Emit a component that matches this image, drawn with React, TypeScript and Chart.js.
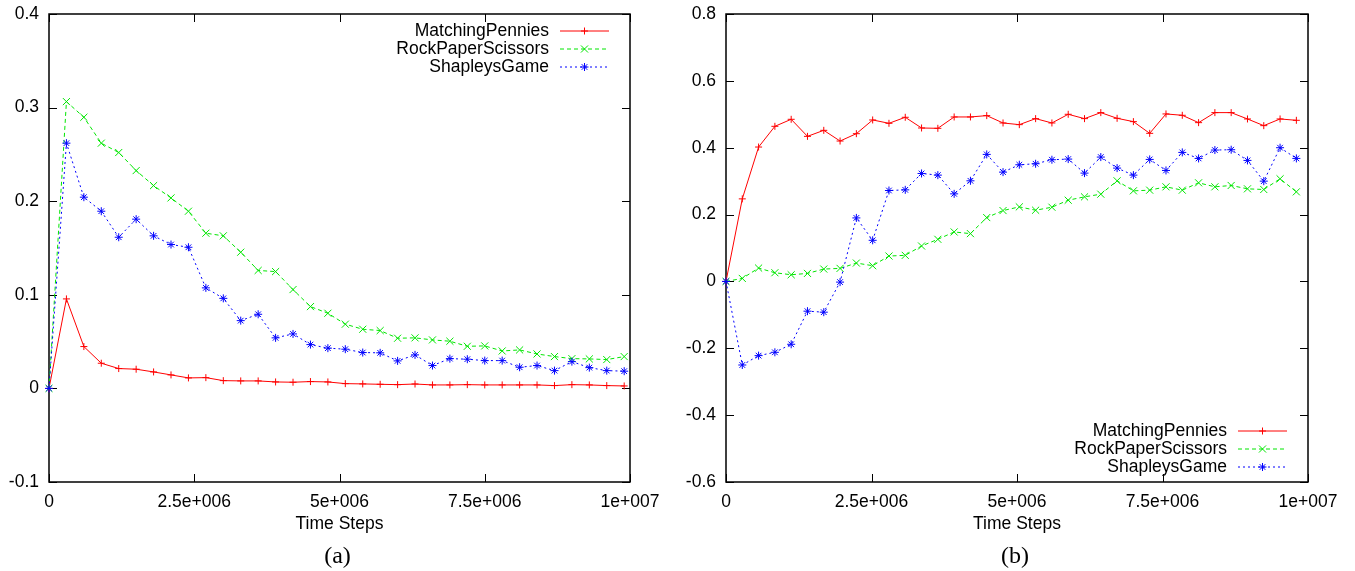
import React, { useEffect, useRef } from 'react';
import { Chart, registerables } from 'chart.js';

Chart.register(...registerables);

// ---------- data ----------
const seriesNames = ['MatchingPennies', 'RockPaperScissors', 'ShapleysGame'];

const timeStepsA = [
  0, 300000, 600000, 900000, 1200000, 1500000, 1800000, 2100000, 2400000, 2700000,
  3000000, 3300000, 3600000, 3900000, 4200000, 4500000, 4800000, 5100000, 5400000, 5700000,
  6000000, 6300000, 6600000, 6900000, 7200000, 7500000, 7800000, 8100000, 8400000, 8700000,
  9000000, 9300000, 9600000, 9900000,
];
const matchingPenniesA = [
  0, 0.0956, 0.0447, 0.0269, 0.0212, 0.0205, 0.0176, 0.0144, 0.0112, 0.0115,
  0.0083, 0.008, 0.008, 0.0069, 0.0066, 0.0073, 0.0069, 0.0051, 0.0048, 0.0044,
  0.004, 0.0047, 0.0037, 0.0037, 0.004, 0.0037, 0.0037, 0.0037, 0.0037, 0.003,
  0.004, 0.0037, 0.003, 0.0026,
];
const rockPaperScissorsA = [
  0, 0.3064, 0.2897, 0.262, 0.252, 0.2327, 0.2167, 0.2035, 0.1893, 0.1658,
  0.163, 0.1455, 0.126, 0.1248, 0.1056, 0.0874, 0.0803, 0.0686, 0.0632, 0.0618,
  0.0536, 0.054, 0.0518, 0.0504, 0.045, 0.0454, 0.04, 0.0411, 0.0368, 0.034,
  0.0318, 0.0315, 0.0308, 0.034,
];
const shapleysGameA = [
  0, 0.262, 0.2043, 0.1893, 0.1615, 0.1808, 0.163, 0.1537, 0.1508, 0.1074,
  0.0962, 0.0724, 0.0792, 0.054, 0.0582, 0.0468, 0.043, 0.0419, 0.0383, 0.038,
  0.0294, 0.0358, 0.0244, 0.0318, 0.0312, 0.0297, 0.0297, 0.0226, 0.0244, 0.019,
  0.0286, 0.0222, 0.019, 0.0184,
];

const timeStepsB = [
  0, 280000, 560000, 840000, 1120000, 1400000, 1680000, 1960000, 2240000, 2520000,
  2800000, 3080000, 3360000, 3640000, 3920000, 4200000, 4480000, 4760000, 5040000, 5320000,
  5600000, 5880000, 6160000, 6440000, 6720000, 7000000, 7280000, 7560000, 7840000, 8120000,
  8400000, 8680000, 8960000, 9240000, 9520000, 9800000,
];
const matchingPenniesB = [
  0, 0.247, 0.402, 0.464, 0.485, 0.434, 0.452, 0.42, 0.442, 0.483,
  0.473, 0.491, 0.459, 0.458, 0.492, 0.492, 0.496, 0.474, 0.469, 0.487,
  0.474, 0.5, 0.487, 0.505, 0.488, 0.478, 0.443, 0.501, 0.497, 0.475,
  0.505, 0.505, 0.486, 0.466, 0.486, 0.482,
];
const rockPaperScissorsB = [
  0, 0.009, 0.04, 0.026, 0.02, 0.024, 0.037, 0.039, 0.055, 0.047,
  0.076, 0.078, 0.106, 0.126, 0.148, 0.143, 0.191, 0.212, 0.223, 0.213,
  0.222, 0.243, 0.253, 0.261, 0.301, 0.271, 0.273, 0.283, 0.273, 0.295,
  0.283, 0.287, 0.277, 0.275, 0.307, 0.268,
];
const shapleysGameB = [
  0, -0.25, -0.222, -0.212, -0.188, -0.089, -0.092, -0.002, 0.19, 0.123,
  0.272, 0.274, 0.323, 0.318, 0.262, 0.301, 0.38, 0.327, 0.349, 0.352,
  0.364, 0.366, 0.324, 0.372, 0.339, 0.318, 0.365, 0.332, 0.386, 0.368,
  0.393, 0.394, 0.362, 0.3, 0.4, 0.368,
];

const xTickLabels = ['0', '2.5e+006', '5e+006', '7.5e+006', '1e+007'];
const yTickLabelsA = ['-0.1', '0', '0.1', '0.2', '0.3', '0.4'];
const yTickLabelsB = ['-0.6', '-0.4', '-0.2', '0', '0.2', '0.4', '0.6', '0.8'];

// ---------- styles ----------
const SANS = '"Liberation Sans", Arial, Helvetica, sans-serif';
const SERIF = '"Liberation Serif", "Times New Roman", serif';
const FONT_SIZE = 17.5;
const seriesStyles = [
  { color: '#ff0000', dash: [] as number[], point: 'cross', radius: 3.5 },
  { color: '#00e600', dash: [4, 3], point: 'crossRot', radius: 5 },
  { color: '#0000ff', dash: [2, 3], point: 'star', radius: 4 },
];

function drawMarker(ctx: CanvasRenderingContext2D, style: string, x: number, y: number, r: number) {
  ctx.beginPath();
  if (style === 'cross' || style === 'star') {
    ctx.moveTo(x - r, y);
    ctx.lineTo(x + r, y);
    ctx.moveTo(x, y - r);
    ctx.lineTo(x, y + r);
  }
  if (style === 'crossRot' || style === 'star') {
    const d = r * Math.SQRT1_2;
    ctx.moveTo(x - d, y - d);
    ctx.lineTo(x + d, y + d);
    ctx.moveTo(x - d, y + d);
    ctx.lineTo(x + d, y - d);
  }
  ctx.stroke();
}

function makeFramePlugin(legendAt: 'top' | 'bottom', caption: string) {
  return {
    id: 'gnuFrame',
    beforeDatasetsDraw(chart: any) {
      const { ctx, chartArea } = chart;
      const { left, right, top, bottom } = chartArea;
      const tl = 8;
      ctx.save();
      ctx.strokeStyle = '#000';
      ctx.lineWidth = 1.5;
      ctx.setLineDash([]);
      ctx.strokeRect(left, top, right - left, bottom - top);
      ctx.lineWidth = 1;
      ctx.beginPath();
      chart.scales.x.ticks.forEach((t: any) => {
        const px = Math.round(chart.scales.x.getPixelForValue(t.value)) + 0.5;
        ctx.moveTo(px, bottom);
        ctx.lineTo(px, bottom - tl);
        ctx.moveTo(px, top);
        ctx.lineTo(px, top + tl);
      });
      chart.scales.y.ticks.forEach((t: any) => {
        const py = Math.round(chart.scales.y.getPixelForValue(t.value)) + 0.5;
        ctx.moveTo(left, py);
        ctx.lineTo(left + tl, py);
        ctx.moveTo(right, py);
        ctx.lineTo(right - tl, py);
      });
      ctx.stroke();
      ctx.restore();
    },
    afterDraw(chart: any) {
      const { ctx, chartArea } = chart;
      const { left, right, top, bottom } = chartArea;
      ctx.save();
      ctx.font = `${FONT_SIZE}px ${SANS}`;
      ctx.textAlign = 'right';
      ctx.textBaseline = 'middle';
      chart.data.datasets.forEach((ds: any, i: number) => {
        const st = seriesStyles[i];
        const y = legendAt === 'top' ? top + 17 + i * 18 : bottom - 51 + i * 18;
        ctx.fillStyle = '#000';
        ctx.fillText(ds.label, right - 81, y);
        ctx.strokeStyle = st.color;
        ctx.lineWidth = 1;
        ctx.setLineDash(st.dash);
        ctx.beginPath();
        ctx.moveTo(right - 70, y);
        ctx.lineTo(right - 21, y);
        ctx.stroke();
        ctx.setLineDash([]);
        drawMarker(ctx, st.point, right - 45.5, y, st.radius);
      });
      ctx.font = `24px ${SERIF}`;
      ctx.textAlign = 'center';
      ctx.fillStyle = '#000';
      ctx.fillText(caption, (left + right) / 2 - 2, 557);
      ctx.restore();
    },
  };
}

type PanelProps = {
  width: number;
  xs: number[];
  values: number[][];
  yMin: number;
  yMax: number;
  yStep: number;
  yLabels: string[];
  yAxisWidth: number;
  padRight: number;
  legendAt: 'top' | 'bottom';
  caption: string;
};

function Panel(props: PanelProps) {
  const ref = useRef<HTMLCanvasElement>(null);
  useEffect(() => {
    const canvas = ref.current;
    if (!canvas) return;
    const font = { family: SANS, size: FONT_SIZE };
    const datasets = seriesNames.map((name, i) => {
      const st = seriesStyles[i];
      return {
        label: name,
        data: props.xs.map((x, j) => ({ x, y: props.values[i][j] })),
        borderColor: st.color,
        backgroundColor: st.color,
        borderWidth: 1,
        borderDash: st.dash,
        tension: 0,
        pointStyle: st.point,
        pointRadius: st.radius,
        pointBorderWidth: 1,
        pointBorderColor: st.color,
        pointBackgroundColor: st.color,
        clip: false,
        order: 2 - i,
      };
    });
    const chart = new Chart(canvas, {
      type: 'line',
      data: { datasets } as any,
      options: {
        responsive: false,
        animation: false,
        events: [],
        layout: {
          autoPadding: false,
          padding: { left: 0, right: props.padRight, top: 14, bottom: 0 },
        },
        plugins: {
          legend: { display: false },
          tooltip: { enabled: false },
          title: { display: false },
        },
        scales: {
          x: {
            type: 'linear',
            min: 0,
            max: 10000000,
            grid: { display: false, drawTicks: false },
            border: { display: false },
            ticks: {
              stepSize: 2500000,
              autoSkip: false,
              maxRotation: 0,
              padding: 10,
              color: '#000',
              font,
              callback: (_v: any, i: number) => xTickLabels[i],
            },
            title: {
              display: true,
              text: 'Time Steps',
              color: '#000',
              font,
              padding: { top: 0, bottom: 36 },
            },
            afterFit: (s: any) => {
              s.height = 89;
              s.paddingLeft = 0;
              s.paddingRight = 0;
            },
          },
          y: {
            type: 'linear',
            min: props.yMin,
            max: props.yMax,
            grid: { display: false, drawTicks: false },
            border: { display: false },
            ticks: {
              stepSize: props.yStep,
              autoSkip: false,
              padding: 10,
              color: '#000',
              font,
              callback: (_v: any, i: number) => props.yLabels[i],
            },
            afterFit: (s: any) => {
              s.width = props.yAxisWidth;
              s.paddingTop = 0;
              s.paddingBottom = 0;
            },
          },
        },
      } as any,
      plugins: [makeFramePlugin(props.legendAt, props.caption)],
    });
    return () => chart.destroy();
  }, []);
  return (
    <canvas
      ref={ref}
      width={props.width}
      height={571}
      style={{ display: 'block', width: props.width, height: 571 }}
    />
  );
}

export default function App() {
  return (
    <div
      style={{
        position: 'absolute',
        left: 0,
        top: 0,
        width: 1355,
        height: 571,
        display: 'flex',
        background: '#fff',
      }}
    >
      <Panel
        width={678}
        xs={timeStepsA}
        values={[matchingPenniesA, rockPaperScissorsA, shapleysGameA]}
        yMin={-0.1}
        yMax={0.4}
        yStep={0.1}
        yLabels={yTickLabelsA}
        yAxisWidth={49}
        padRight={48}
        legendAt="top"
        caption="(a)"
      />
      <Panel
        width={677}
        xs={timeStepsB}
        values={[matchingPenniesB, rockPaperScissorsB, shapleysGameB]}
        yMin={-0.6}
        yMax={0.8}
        yStep={0.2}
        yLabels={yTickLabelsB}
        yAxisWidth={48}
        padRight={47}
        legendAt="bottom"
        caption="(b)"
      />
    </div>
  );
}
